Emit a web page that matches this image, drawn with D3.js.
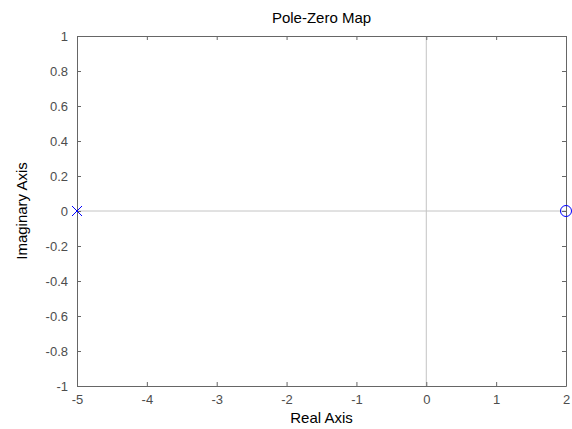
<!DOCTYPE html>
<html lang="en">
<head>
<meta charset="utf-8">
<script src="https://d3js.org/d3.v7.min.js"></script>
<style>
	body { margin: 0; background: white; }
	svg { font-family: "Liberation Sans", Arial, sans-serif; }
	.axis text { fill: #4d4d4d; font-size: 13px; }
	.axis path, .axis line { stroke: #666; }
</style>
</head>
<body>
<svg width="572" height="429"></svg>
<script>
	// pole and zero locations
	const poleRe = [-5];
	const poleIm = [0];
	const zeroRe = [2];
	const zeroIm = [0];
	const xTicks = [-5, -4, -3, -2, -1, 0, 1, 2];
	const yTicks = [-1, -0.8, -0.6, -0.4, -0.2, 0, 0.2, 0.4, 0.6, 0.8, 1];

	const width = 572, height = 429;
	const margin = { top: 36, right: 6, bottom: 43, left: 77 };

	const svg = d3.select("svg");
	const x = d3.scaleLinear().domain([-5, 2]).range([margin.left, width - margin.right]);
	const y = d3.scaleLinear().domain([-1, 1]).range([height - margin.bottom, margin.top]);

	// grid lines through origin
	svg.append("line")
		.attr("x1", x(0)).attr("x2", x(0))
		.attr("y1", y(1)).attr("y2", y(-1))
		.attr("stroke", "#c4c4c4").attr("stroke-width", 1);
	svg.append("line")
		.attr("x1", x(-5)).attr("x2", x(2))
		.attr("y1", y(0)).attr("y2", y(0))
		.attr("stroke", "#c4c4c4").attr("stroke-width", 1);

	const fmt = d => +d.toFixed(1) + "";

	svg.append("g").attr("class", "axis")
		.attr("transform", "translate(0," + y(-1) + ")")
		.call(d3.axisBottom(x).tickValues(xTicks).tickSizeInner(-4).tickSizeOuter(0).tickPadding(9).tickFormat(fmt));
	svg.append("g").attr("class", "axis")
		.attr("transform", "translate(0," + y(1) + ")")
		.call(d3.axisTop(x).tickValues(xTicks).tickSizeInner(-4).tickSizeOuter(0).tickFormat(""));
	svg.append("g").attr("class", "axis")
		.attr("transform", "translate(" + x(-5) + ",0)")
		.call(d3.axisLeft(y).tickValues(yTicks).tickSizeInner(-4).tickSizeOuter(0).tickPadding(9).tickFormat(fmt));
	svg.append("g").attr("class", "axis")
		.attr("transform", "translate(" + x(2) + ",0)")
		.call(d3.axisRight(y).tickValues(yTicks).tickSizeInner(-4).tickSizeOuter(0).tickFormat(""));

	// poles as x
	const s = 5;
	poleRe.forEach((re, i) => {
		const cx = x(re), cy = y(poleIm[i]);
		svg.append("path")
			.attr("d", `M${cx - s},${cy - s}L${cx + s},${cy + s}M${cx - s},${cy + s}L${cx + s},${cy - s}`)
			.attr("stroke", "blue").attr("stroke-width", 1).attr("fill", "none");
	});
	// zeros as o
	zeroRe.forEach((re, i) => {
		svg.append("circle")
			.attr("cx", x(re)).attr("cy", y(zeroIm[i])).attr("r", 5.5)
			.attr("stroke", "blue").attr("stroke-width", 1).attr("fill", "none");
	});

	svg.append("text").attr("x", (x(-5) + x(2)) / 2).attr("y", 23)
		.attr("text-anchor", "middle").attr("font-size", 15).attr("fill", "black")
		.text("Pole-Zero Map");
	svg.append("text").attr("x", (x(-5) + x(2)) / 2).attr("y", 423)
		.attr("text-anchor", "middle").attr("font-size", 15).attr("fill", "black")
		.text("Real Axis");
	svg.append("text")
		.attr("transform", "translate(27," + (y(0)) + ") rotate(-90)")
		.attr("text-anchor", "middle").attr("font-size", 15).attr("fill", "black")
		.text("Imaginary Axis");
</script>
</body>
</html>
